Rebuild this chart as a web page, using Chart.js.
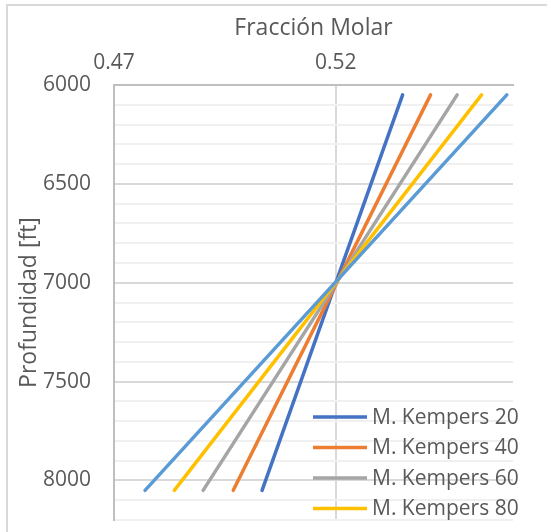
<!DOCTYPE html>
<html>
<head>
<meta charset="utf-8">
<script src="https://cdn.jsdelivr.net/npm/chart.js@4"></script>
<style>
  html, body { margin: 0; padding: 0; background: #fff; }
  #wrap { position: relative; width: 547px; height: 532px; overflow: hidden; }
  #frame { position: absolute; left: 6px; top: 4px; width: 600px; height: 600px;
           border-left: 2px solid #D9D9D9; border-top: 2px solid #D9D9D9; }
  canvas { position: absolute; left: 0; top: 0; }
</style>
</head>
<body>
<div id="wrap">
  <div id="frame"></div>
  <canvas id="c" width="547" height="532"></canvas>
</div>
<script>
// ---- data ----
const seriesNames = ['M. Kempers 20', 'M. Kempers 40', 'M. Kempers 60', 'M. Kempers 80', 'M. Kempers 100'];
const depths = [6050, 8050];
const kempers20 = [0.5351, 0.5034];
const kempers40 = [0.5414, 0.4969];
const kempers60 = [0.5474, 0.4901];
const kempers80 = [0.5529, 0.4836];
const kempers100 = [0.5586, 0.4770];
const xTicks = [0.47, 0.52];
const xTitle = 'Fracción Molar';
const yTitle = 'Profundidad [ft]';
const legendShown = 4; // legend in the reference is clipped after four entries

const seriesValues = [kempers20, kempers40, kempers60, kempers80, kempers100];
const colors = ['#4472C4', '#ED7D31', '#A5A5A5', '#FFC000', '#5B9BD5'];
const FONT = "'Open Sans', 'Noto Sans', sans-serif";
const TXT = '#595959';

const datasets = seriesNames.map((name, i) => ({
  label: name,
  data: depths.map((d, j) => ({ x: seriesValues[i][j], y: d })),
  borderColor: colors[i],
  backgroundColor: colors[i],
  borderWidth: 3.5,
  borderCapStyle: 'round',
  pointRadius: 0,
  showLine: true,
  order: seriesNames.length - 1 - i
}));

const legendPlugin = {
  id: 'insideLegend',
  afterDraw(chart) {
    const ctx = chart.ctx;
    const a = chart.chartArea;
    ctx.save();
    ctx.font = "21px " + FONT;
    ctx.textBaseline = 'middle';
    ctx.textAlign = 'left';
    const x0 = a.right - 200;
    for (let i = 0; i < legendShown; i++) {
      const y = a.bottom - 103 + i * 30.5;
      ctx.strokeStyle = colors[i];
      ctx.lineWidth = 3.5;
      ctx.lineCap = 'butt';
      ctx.beginPath();
      ctx.moveTo(x0, y);
      ctx.lineTo(x0 + 54, y);
      ctx.stroke();
      ctx.fillStyle = TXT;
      ctx.fillText(seriesNames[i], x0 + 59, y + 1);
    }
    ctx.restore();
  }
};

new Chart(document.getElementById('c'), {
  type: 'scatter',
  data: { datasets },
  plugins: [legendPlugin],
  options: {
    responsive: false,
    animation: false,
    layout: { padding: { left: 0, top: 0, right: 34, bottom: 12 } },
    plugins: { legend: { display: false }, tooltip: { enabled: false } },
    scales: {
      x: {
        type: 'linear',
        position: 'top',
        min: 0.47,
        max: 0.56,
        afterBuildTicks(scale) { scale.ticks = xTicks.map(v => ({ value: v })); },
        afterFit(scale) { scale.height = 85; scale.paddingLeft = 0; scale.paddingRight = 0; },
        ticks: {
          padding: 9,
          color: TXT,
          font: { family: FONT, size: 21 },
          callback: v => Number(v).toFixed(2),
          maxRotation: 0
        },
        grid: {
          drawTicks: false,
          color: c => (c.tick && Math.abs(c.tick.value - 0.47) < 1e-9) ? 'rgba(0,0,0,0)' : '#D9D9D9',
          lineWidth: 2
        },
        border: { display: true, color: '#BFBFBF', width: 2 },
        title: {
          display: true, text: xTitle, color: TXT,
          font: { family: FONT, size: 23 },
          padding: { top: 15, bottom: 0 }
        }
      },
      y: {
        type: 'linear',
        reverse: true,
        min: 6000,
        max: 8200,
        afterFit(scale) { scale.width = 114; scale.paddingTop = 0; scale.paddingBottom = 0; },
        ticks: {
          stepSize: 100,
          autoSkip: false,
          padding: 23,
          color: TXT,
          font: { family: FONT, size: 21 },
          callback: v => (v % 500 === 0 ? String(v) : '')
        },
        grid: {
          drawTicks: false,
          color: c => (c.tick && c.tick.value % 500 === 0) ? '#D9D9D9' : '#F0F0F0',
          lineWidth: 2
        },
        border: { display: true, color: '#BFBFBF', width: 2 },
        title: {
          display: true, text: yTitle, color: TXT,
          font: { family: FONT, size: 23 },
          padding: { top: 16, bottom: 0 }
        }
      }
    }
  }
});
</script>
</body>
</html>
